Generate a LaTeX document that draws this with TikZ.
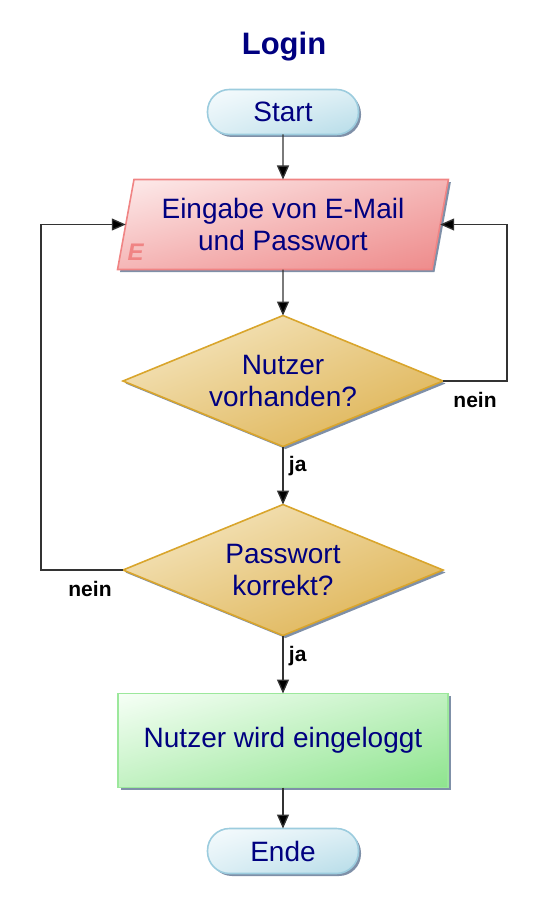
\documentclass[tikz,border=0pt]{standalone}
\usepackage{fontspec}
\setmainfont{Liberation Sans}
\usepackage{xcolor}
\usepackage{tikz}
\usetikzlibrary{positioning,arrows.meta,shapes.geometric,shadows,shadings}

\definecolor{navytext}{HTML}{000080}
\definecolor{linegray}{HTML}{333333}
\definecolor{shadowgray}{HTML}{7F90A8}
\definecolor{termline}{HTML}{9CCCDE}
\definecolor{termlight}{HTML}{F6FBFD}
\definecolor{termdark}{HTML}{B6DCE8}
\definecolor{inline}{HTML}{F08484}
\definecolor{inlight}{HTML}{FDECEC}
\definecolor{indark}{HTML}{EE8A8A}
\definecolor{decline}{HTML}{D9A52C}
\definecolor{declight}{HTML}{F8EDCF}
\definecolor{decdark}{HTML}{DCAE48}
\definecolor{actline}{HTML}{9CE89C}
\definecolor{actlight}{HTML}{F6FFF6}
\definecolor{actdark}{HTML}{8EE48E}

\begin{document}
\begin{tikzpicture}[x=1pt, y=1pt, align=center,
    font=\fontsize{28}{32}\selectfont, text=navytext,
    >={Triangle[length=14pt,width=12pt,fill=black]},
    shadowed/.style={drop shadow={shadow xshift=2.5pt, shadow yshift=-2.5pt, fill=shadowgray, opacity=1}},
    terminal/.style={draw=termline, line width=1.6pt, rounded corners=22pt, minimum width=151pt, minimum height=45pt, inner sep=0pt, outer sep=0pt, shadowed, shade, upper left=termlight, upper right=termlight!60!termdark, lower left=termlight!60!termdark, lower right=termdark},
    inputbox/.style={trapezium, trapezium left angle=75.7, trapezium right angle=104.3, trapezium stretches=true, draw=inline, line width=1.6pt, minimum width=331pt, minimum height=90pt, inner sep=0pt, outer sep=0pt, shadowed, shade, upper left=inlight, upper right=inlight!45!indark, lower left=inlight!45!indark, lower right=indark},
    decision/.style={diamond, aspect=2.44, draw=decline, line width=1.6pt, minimum width=320pt, minimum height=131pt, inner sep=0pt, outer sep=0pt, shadowed, shade, upper left=declight, upper right=declight!45!decdark, lower left=declight!45!decdark, lower right=decdark},
    action/.style={draw=actline, line width=1.6pt, minimum width=330pt, minimum height=94pt, inner sep=0pt, outer sep=0pt, shadowed, shade, upper left=actlight, upper right=actlight!50!actdark, lower left=actlight!50!actdark, lower right=actdark},
    flow/.style={->, draw=linegray, line width=1.3pt},
    answer/.style={font=\fontsize{21}{24}\selectfont\bfseries, text=black}]

    \useasboundingbox (0,0) rectangle (550,921);

    \node [font=\fontsize{31}{36}\selectfont\bfseries] (title) at (284,874) {Login};
    \node [terminal] (start) at (283,809) {Start};
    \node [inputbox, below=45pt of start] (input) {Eingabe von E-Mail\\und Passwort};
    \node [font=\fontsize{24}{24}\selectfont\bfseries\itshape, text=inline] (inmark) at ([shift={(18pt,17pt)}]input.bottom left corner) {E};
    \node [decision, below=46pt of input] (user) {Nutzer\\vorhanden?};
    \node [decision, below=58pt of user] (pass) {Passwort\\korrekt?};
    \node [action, below=58pt of pass] (login) {Nutzer wird eingeloggt};
    \node [terminal, below=41pt of login] (ende) {Ende};

    \draw[flow] (start) -- (input);
    \draw[flow] (input) -- (user);
    \draw[flow] (user) -- node[answer, right, pos=0.34, xshift=2pt] {ja} (pass);
    \draw[flow] (pass) -- node[answer, right, pos=0.36, xshift=2pt] {ja} (login);
    \draw[flow] (login) -- (ende);

    % back to input
    \draw[flow] (user.east) -- node[answer, below=7pt] {nein} ++(64pt,0) |- (input);
    \draw[flow] (pass.west) -- node[answer, below=7pt, xshift=8pt] {nein} ++(-82pt,0) |- (input);

\end{tikzpicture}
\end{document}
